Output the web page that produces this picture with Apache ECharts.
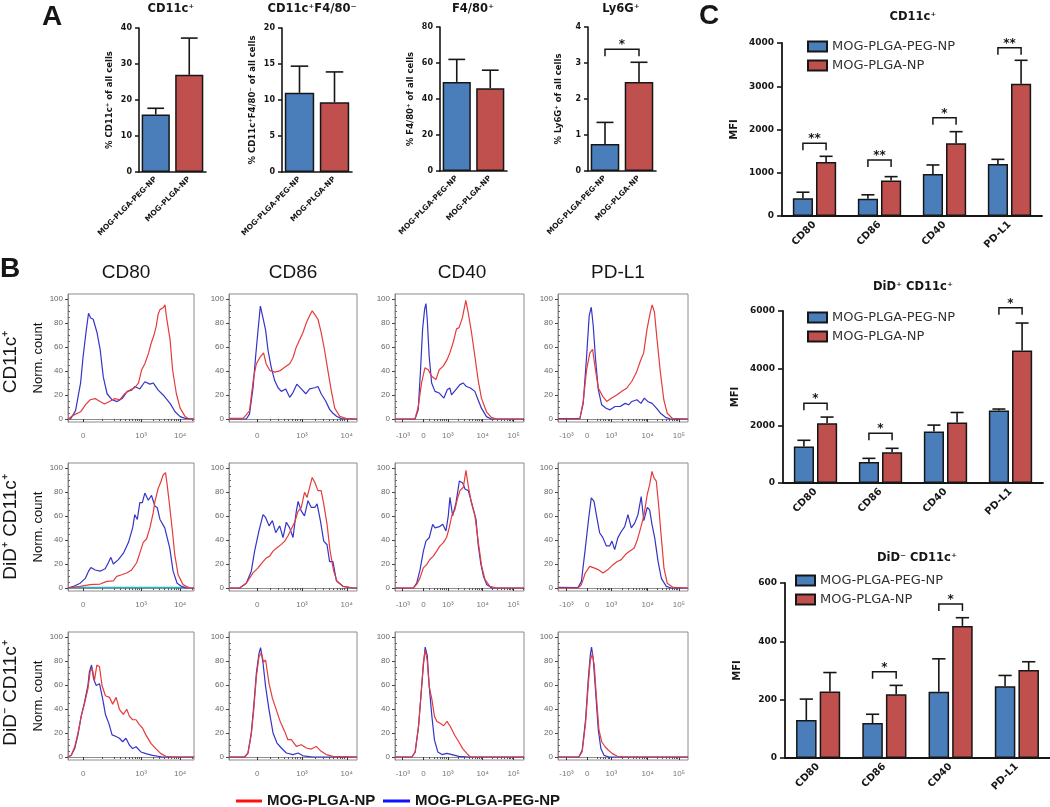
<!DOCTYPE html>
<html>
<head>
<meta charset="UTF-8">
<script src="https://cdn.jsdelivr.net/npm/echarts@6/dist/echarts.min.js"></script>
<style>html,body{margin:0;padding:0;background:#fff}</style>
</head>
<body>
<div id="main" style="width:1050px;height:807px"></div>
<script type="text/javascript">
// ---------- panel A : % of all cells ----------
var groups = ['MOG-PLGA-PEG-NP', 'MOG-PLGA-NP'];
var aTitles = ['CD11c⁺', 'CD11c⁺F4/80⁻', 'F4/80⁺', 'Ly6G⁺'];
var aYNames = ['% CD11c⁺ of all cells', '% CD11c⁺F4/80⁻ of all cells', '% F4/80⁺ of all cells', '% Ly6G⁺ of all cells'];
var aMeans = [[16, 27], [11, 9.7], [49.5, 46], [0.75, 2.47]];
var aErrTop = [[17.7, 37.2], [14.7, 13.9], [62, 56], [1.35, 3.02]];
var aMax = [40, 20, 80, 4];
var aStep = [10, 5, 20, 1];
var aSig = [[], [], [], [[0, 3.38, '*']]];

// ---------- panel C : MFI ----------
var markers = ['CD80', 'CD86', 'CD40', 'PD-L1'];
var cTitles = ['CD11c⁺', 'DiD⁺ CD11c⁺', 'DiD⁻ CD11c⁺'];
var cPeg = [[410, 400, 970, 1200], [1270, 730, 1800, 2530], [130, 120, 227, 246]];
var cPegErr = [[550, 490, 1180, 1310], [1490, 860, 2020, 2580], [202, 150, 340, 283]];
var cPlga = [[1250, 820, 1680, 3060], [2080, 1070, 2110, 4620], [228, 219, 453, 302]];
var cPlgaErr = [[1380, 910, 1950, 3600], [2300, 1210, 2460, 5580], [293, 249, 481, 330]];
var cMax = [4000, 6000, 600];
var cStep = [1000, 2000, 200];
var cSig = [
  [[0, 1681, '**'], [1, 1295, '**'], [2, 2273, '*'], [3, 3891, '**']],
  [[0, 2780, '*'], [1, 1733, '*'], [3, 6115, '*']],
  [[1, 296, '*'], [2, 528, '*']]
];

// ---------- panel B : normalized histograms (x = channel 0-100 across plot) ----------
var bCols = ['CD80', 'CD86', 'CD40', 'PD-L1'];
var bRows = ['CD11c⁺', 'DiD⁺ CD11c⁺', 'DiD⁻ CD11c⁺'];
var bTickPos = [[12, 58, 89], [22, 57, 92], [6, 22, 41, 68, 92], [6.5, 22.5, 41, 69, 93]];
var bTickLabels = [['0', '10³', '10⁴'], ['0', '10³', '10⁴'], ['-10³', '0', '10³', '10⁴', '10⁵'], ['-10³', '0', '10³', '10⁴', '10⁵']];

var pegRow1 = [
  [[0,0],[2,0],[6,7],[10,30],[12,52],[14.5,74],[16.3,88],[18,84],[20,83],[23,72],[25.5,58],[28,35],[31,21],[35,16],[39,14.5],[43,17],[47,23],[50.5,24],[53,27],[57,25],[61,31],[65,29],[67.6,30],[71.6,24],[75.5,20],[81,13],[85,6],[89,2],[93,0.5],[100,0]],
  [[0,0],[13.5,0],[16,4],[18.8,26],[20.8,52],[22.7,74],[24.5,94],[26.6,84],[28.6,74],[30.5,57],[33,43],[35.7,32],[38.3,26],[40.9,23],[44.3,25],[47.4,18],[50,22],[53,29],[56.5,25],[60,21],[63,25],[67,26],[69.5,27],[72,21],[75.5,15],[78.6,8],[81,5],[84,2.3],[87.8,0.3],[100,0]],
  [[0,0],[15.5,0],[18,7.6],[19.8,41],[21.4,75],[23,91.6],[24,96],[25,83],[26.5,52],[28.4,30],[31,23],[34.3,21.6],[37.9,17.4],[40.5,24.4],[42.5,25.8],[43.8,20],[47.2,24.4],[50.3,28.6],[52.8,30],[55.4,27],[58.5,25.8],[61.9,23],[64.4,16],[67,9],[70.9,2],[74.7,0],[100,0]],
  [[0,0.3],[16.8,0.3],[19.4,13],[22,52],[24,86],[25.6,93],[27.1,77.6],[28.9,49.6],[31,24.4],[33.6,11.8],[37,9],[40,7.6],[43.9,10.4],[47.8,10.4],[51.7,13],[54.3,11.8],[56.8,14.6],[60.7,16],[63.8,13],[66.4,17.4],[69,14.6],[72.4,13],[75.7,9],[78.8,4.8],[82.7,1.4],[86.6,0],[100,0]]
];
var plgaRow1 = [
  [[0,0],[4,3],[10,6],[14,12],[17.6,16],[21.5,17],[25.5,14.5],[29,12.5],[33,14.5],[37,17],[41,16],[45,21],[49,24],[53,26],[56,30],[58.5,41],[61,46],[64,55],[66,63],[68,69],[70,77],[71.5,87],[73,91],[75.5,92.5],[77,95],[78,86],[81,66],[83,41],[86,21],[89,9],[93,2],[96,0],[100,0]],
  [[0,0.5],[11,0.5],[16,6.5],[19.3,35],[21.4,46],[24,51],[27,55],[29,46],[31.8,40.5],[35.7,39],[39.6,40],[43.5,43],[47.4,46],[50,51],[52.6,60],[55.2,66],[57.8,72],[60.4,80],[63,86],[65,90],[67,87],[69.5,83],[72,72],[74.7,57],[77.3,40],[80,23],[82.6,9],[86.5,2.3],[91.7,0.3],[100,0]],
  [[0,0],[15.5,0],[18,10],[20.6,30],[23.2,42.6],[25.8,41],[28.4,35.6],[31.7,32.8],[34.3,41],[37.4,44],[40.5,49.6],[42.5,55],[45.1,63.6],[47.7,75],[49.7,76],[52.3,84.6],[54.9,98.6],[56.7,88.8],[59.3,72],[61.9,52.4],[64.4,32.8],[67,17.4],[70.9,6],[74.7,1.4],[78.6,0],[100,0]],
  [[0,0],[16.8,0],[19.4,14.6],[22,41],[24.5,55],[26.6,58],[28.4,44],[31,25.8],[34.4,18.8],[37.5,14.6],[41.3,17.4],[45.2,20],[49.1,23],[53,25.8],[56.8,31.4],[60.2,38.4],[63.3,48],[65.9,55],[68.5,75],[71,88.8],[72.4,95],[74.2,88.8],[76.2,66],[78.8,38.4],[81.4,16],[84,4.8],[87.9,0.6],[100,0]]
];
var pegRow2 = [
  [[0,0],[0.5,0],[4.5,1.4],[9.7,4],[13.7,8],[16.3,14],[18.2,17],[21.6,15],[25.5,14],[29.5,16],[32,21],[34,25.5],[36,20],[40,23.6],[44,29],[48,38],[51.3,50],[53,61],[55,57],[57,71],[59,71],[61,79],[63.7,73],[66.3,77],[69,68],[70.8,67],[73,57],[76.8,50],[80.8,33],[83.4,14],[86.6,4],[90,1.4],[94,0],[100,0]],
  [[0,0],[8.3,0],[13.5,4],[17.4,14],[20,30.7],[23.4,47.5],[26.6,61],[28.6,58.7],[31.3,51.7],[33.9,56],[36.5,46],[39.6,51.7],[42.2,42],[44.8,54.7],[47.4,50],[50,42],[52.6,64],[54,72],[56.5,64],[59,60],[61.7,72.6],[64.3,67],[67,67],[68.8,70],[71.4,56],[74,39],[76.6,36],[78.6,22],[81.2,22],[83.9,6],[89,1.4],[96.9,0],[100,0]],
  [[0,0],[14.2,0],[16.8,4],[19.4,15],[22,30.7],[24,39],[26.6,42],[29.2,53],[31,50],[34.4,51],[37,53],[39.5,47.5],[41.3,60],[42.6,75.4],[44.7,60],[47.3,71],[49.9,89],[52.5,87.4],[54.3,82.4],[56.8,81],[59.4,71],[62.8,57],[64.6,35],[66.4,21],[68.5,10],[71,3],[75,0],[100,0]],
  [[0,0.5],[15.4,0.3],[18,5.5],[21,33],[23.6,58],[25.6,75],[27.7,72],[29.5,61],[32,46],[34.6,41.7],[37.2,35],[39.7,35],[41.5,39],[43.6,32],[46,41.7],[48.7,47],[51.3,51],[53.8,61],[56.4,50],[59,54],[61.5,61],[64,76],[66,56],[68.7,67],[70.5,65],[72.3,53],[74.4,41.7],[77,22],[79.5,8],[83.3,1.4],[87,0],[100,0]]
];
var plgaRow2 = [
  [[0,0],[9.7,1.4],[17.6,2.8],[25.5,3.3],[30.8,5.5],[36,6],[38.7,9.7],[42.6,11],[46.6,12.5],[50.5,15],[54.5,21],[57,29],[59.7,38],[62.4,41],[65,50],[67.6,62.5],[69,72],[71.6,83],[73.4,87.5],[75.5,94],[77.4,96],[78.7,86],[80.8,67],[82.9,47],[84.7,28],[87.4,11],[91.3,2.8],[96.6,0],[100,0]],
  [[0,0],[8.3,0],[13.5,4],[18.75,12.6],[22.7,16.8],[26.6,22],[29.2,25],[31.8,26.5],[34.4,30.7],[37.5,33.5],[40.9,36.3],[43.5,39],[46,43.3],[48.7,49],[51.3,54.7],[54,64],[56.5,67],[59,79.6],[61,75.4],[63,83.8],[65,92],[67,88],[69.5,81],[72,81],[74,70],[76.6,53],[79,30.7],[81.8,14],[84.4,5.6],[89,1.4],[96.9,0],[100,0]],
  [[0,0],[14.2,0],[16.8,3],[19.4,8.4],[22,16.8],[24.5,19.5],[27,23.7],[29.7,26.5],[32.3,30.7],[34.9,35],[37.5,37.7],[40,42],[42,50],[44,60],[46.5,65.4],[48.3,74],[50.4,81],[53,83.8],[55,97.8],[56.8,85],[59.4,70],[62,60],[64.6,37.7],[67.2,18],[69.8,7],[73.6,1.4],[78.8,0],[100,0]],
  [[0,0],[15.4,0],[18,2.8],[21,12.5],[24.4,18],[27.7,16.7],[30.8,15.3],[34.6,12.5],[38.5,15.3],[42.3,19.4],[45.6,22],[48.7,23.6],[51.8,27.8],[55,30.6],[58.5,33],[61,40],[63.6,50],[66,60],[68.7,78],[70.5,86],[72.3,97],[73.8,91.7],[75.6,89],[77.4,69],[79.5,41.7],[81.5,16.7],[84,4],[88.5,0.5],[100,0]]
];
var isoRow2CD80 = [[0,0.4],[94,0.4]];
var pegRow3 = [
  [[0,0],[2.6,1.4],[5.3,7],[7.9,18.4],[10.5,34],[13,45],[15.8,59.5],[17,71],[18.7,76.5],[20.3,65],[22.4,59.5],[25,61],[27.6,48],[29.7,35.4],[32.4,28],[35,18.4],[38.2,17],[40.8,15.6],[43.4,12.7],[46,15.6],[48.7,10],[51.3,7],[54,8.5],[57.9,4.2],[61.8,2.8],[67.1,1.4],[75,0],[100,0]],
  [[0,0],[12.2,0],[14.8,3.3],[17.4,20],[19.3,42],[21.4,70],[23.4,86],[24.7,91],[26.6,78],[28.6,58.6],[31.3,39],[34.4,20],[37.5,11.6],[40.9,7.5],[44.8,3.3],[50,2],[54,3.3],[57.8,1],[65.6,0],[100,0]],
  [[0,0],[13,0],[15.6,4],[18.2,25],[20.3,53.5],[22,76],[23.4,91.5],[25,84.5],[26.5,59],[28.6,33.8],[30.6,14],[33.2,4.2],[36.4,2],[40.3,3],[44.2,2],[49.4,0.5],[57,0],[100,0]],
  [[0,0],[16,0],[18.6,5.6],[21.2,31],[23.3,64.8],[24.8,84.5],[25.8,91.5],[27.1,81.7],[29,53.5],[31,22.5],[33,7],[35.4,1.4],[39.3,0],[100,0]]
];
var plgaRow3 = [
  [[0,0],[2.6,1.4],[5.3,8.5],[7.9,19.8],[10.5,34],[13,44],[15.8,56.7],[17.6,71],[19.2,73.7],[21,63.7],[22.9,76.5],[25,75],[27,59.5],[29.7,51],[32.9,49.6],[35.5,44],[38.2,49.6],[40.8,39.7],[43.9,35.4],[46.6,39.7],[48.7,34],[51.3,31],[54,31],[56.6,27],[59.2,24],[61.8,18.4],[65.8,11.3],[69.7,7],[73.7,2.8],[77.6,0.6],[82.9,0],[100,0]],
  [[0,0],[12.2,0],[14.8,3.3],[17.4,18.5],[19.3,39],[21.4,67],[23.4,83.4],[25.3,86.7],[27,79],[28.6,80.7],[31.3,61],[33.9,49],[37,39],[40,29.6],[43.5,21.3],[46,14.4],[48.7,14.4],[52.6,8.8],[56.5,10.2],[60.4,7.5],[64.3,6.6],[68.2,8.8],[72,4.7],[76,2],[81.2,0.5],[100,0]],
  [[0,0],[13,0],[15.6,4],[18.2,25],[20.3,53.5],[22,79],[23.4,88.7],[25,80],[26.5,59],[28.6,48],[30.6,33.8],[32.5,29.6],[35,28],[37.7,26],[40.3,29.6],[42.9,25.4],[46.2,18.3],[49.4,12.7],[52.5,7],[55.8,2.8],[58.4,0],[100,0]],
  [[0,0],[16,0],[18.6,4.2],[21.2,28],[23.3,60.6],[24.8,80],[26.4,86],[27.9,76],[29.5,50.7],[31.5,22.5],[33.6,12.7],[36.2,8.5],[38.8,5.6],[41.9,2.8],[45.7,0.6],[52.2,0],[100,0]]
];
var pegRows = [pegRow1, pegRow2, pegRow3];
var plgaRows = [plgaRow1, plgaRow2, plgaRow3];

// ---------- build ----------
var chart = echarts.init(document.getElementById('main'));
var grids = [], xAxes = [], yAxes = [], series = [], legends = [], graphics = [];
var BLUE = '#4a7ebb', RED = '#c0504d', INK = '#161616';
var PRISM = 'DejaVu Sans', ARIAL = 'Liberation Sans';

function errorBars(capFrac) {
  return function (params, api) {
    var band = api.size([1, 0])[0];
    var base = api.coord([api.value(0), api.value(1)]);
    var top = api.coord([api.value(0), api.value(2)]);
    var x = base[0] + api.value(3) * band;
    var half = capFrac * band / 2;
    var st = {stroke: INK, lineWidth: 1.6};
    return {type: 'group', children: [
      {type: 'line', shape: {x1: x, y1: base[1], x2: x, y2: top[1]}, style: st},
      {type: 'line', shape: {x1: x - half, y1: top[1], x2: x + half, y2: top[1]}, style: st}
    ]};
  };
}

function brackets(texts, offL, offR) {
  return function (params, api) {
    var band = api.size([1, 0])[0];
    var p = api.coord([api.value(0), api.value(1)]);
    var x1 = p[0] + offL * band, x2 = p[0] + offR * band, y = p[1];
    return {type: 'group', children: [
      {type: 'polyline', shape: {points: [[x1, y + 7], [x1, y], [x2, y], [x2, y + 7]]},
        style: {stroke: INK, lineWidth: 1.5, fill: null}},
      {type: 'text', x: (x1 + x2) / 2, y: y + 2,
        style: {text: texts[params.dataIndex], font: 'bold 12px ' + PRISM, fill: INK,
          align: 'center', verticalAlign: 'bottom', textAlign: 'center', textVerticalAlign: 'bottom'}}
    ]};
  };
}

function label(x, y, s, font, rot, align) {
  return {type: 'text', x: x, y: y, rotation: rot || 0, silent: true,
    style: {text: s, font: font, fill: INK, align: align || 'center', verticalAlign: 'middle',
      textAlign: align || 'center', textVerticalAlign: 'middle'}};
}

var boldTick = {color: INK, fontFamily: PRISM, fontWeight: 'bold'};
function plain(v) { return String(v); }

// panel C (first, so the legends pick up the bar styles)
var cGrid = [
  {left: 782, top: 43, width: 260, height: 173},
  {left: 783, top: 311, width: 260, height: 172},
  {left: 785, top: 583, width: 265, height: 175}
];
var cLegendAt = [[807, 40], [807, 311], [795, 574]];
var cTitleAt = [[913, 17], [913, 287], [917, 558]];
var BW = 0.31, BG = 0.15, OFF = BW * (1 + BG) / 2;

cTitles.forEach(function (title, i) {
  var g = grids.push(cGrid[i]) - 1;
  var xi = xAxes.push({gridIndex: g, type: 'category', data: markers,
    axisLine: {lineStyle: {color: INK, width: 1.8}},
    axisTick: {alignWithLabel: true, length: 5, lineStyle: {color: INK, width: 1.6}},
    axisLabel: Object.assign({rotate: 45, margin: 7, interval: 0, fontSize: 10}, boldTick)}) - 1;
  var yi = yAxes.push({gridIndex: g, type: 'value', min: 0, max: cMax[i], interval: cStep[i],
    name: 'MFI', nameLocation: 'middle', nameGap: 43,
    nameTextStyle: {color: INK, fontFamily: PRISM, fontWeight: 'bold', fontSize: 10},
    axisLine: {show: true, lineStyle: {color: INK, width: 1.8}},
    axisTick: {show: true, length: 5, lineStyle: {color: INK, width: 1.6}},
    axisLabel: Object.assign({fontSize: 9, margin: 8, formatter: plain}, boldTick),
    splitLine: {show: false}}) - 1;
  series.push({type: 'bar', name: groups[0], xAxisIndex: xi, yAxisIndex: yi, data: cPeg[i],
    barWidth: (BW * 100) + '%', barGap: (BG * 100) + '%',
    itemStyle: {color: BLUE, borderColor: INK, borderWidth: 1.5}});
  series.push({type: 'bar', name: groups[1], xAxisIndex: xi, yAxisIndex: yi, data: cPlga[i],
    barWidth: (BW * 100) + '%', barGap: (BG * 100) + '%',
    itemStyle: {color: RED, borderColor: INK, borderWidth: 1.5}});
  var err = [];
  markers.forEach(function (m, k) {
    err.push([k, cPeg[i][k], cPegErr[i][k], -OFF]);
    err.push([k, cPlga[i][k], cPlgaErr[i][k], OFF]);
  });
  series.push({type: 'custom', name: 'sem', xAxisIndex: xi, yAxisIndex: yi, data: err,
    encode: {x: 0, y: 1}, renderItem: errorBars(0.2), z: 3, clip: false, silent: true});
  series.push({type: 'custom', name: 'p', xAxisIndex: xi, yAxisIndex: yi,
    data: cSig[i].map(function (s) { return [s[0], s[1]]; }),
    encode: {x: 0, y: 1}, renderItem: brackets(cSig[i].map(function (s) { return s[2]; }), -OFF, OFF),
    z: 4, clip: false, silent: true});
  legends.push({data: groups, orient: 'vertical', left: cLegendAt[i][0], top: cLegendAt[i][1],
    icon: 'rect', itemWidth: 19, itemHeight: 10, itemGap: 6, padding: 0, selectedMode: false,
    textStyle: {fontFamily: PRISM, fontSize: 13, color: '#333'}});
  graphics.push(label(cTitleAt[i][0], cTitleAt[i][1], title, 'bold 11.5px ' + PRISM));
});

// panel A
var aGrid = [
  {left: 139, top: 28, width: 67, height: 144},
  {left: 282, top: 28, width: 70, height: 144},
  {left: 440, top: 27, width: 67, height: 144},
  {left: 588, top: 27, width: 68, height: 144}
];
var aTitleX = [171, 312, 473, 621];

aTitles.forEach(function (title, i) {
  var g = grids.push(aGrid[i]) - 1;
  var xi = xAxes.push({gridIndex: g, type: 'category', data: groups,
    axisLine: {lineStyle: {color: INK, width: 1.6}},
    axisTick: {alignWithLabel: true, length: 4, lineStyle: {color: INK, width: 1.5}},
    axisLabel: Object.assign({rotate: 45, margin: 6, interval: 0, fontSize: 7.5}, boldTick)}) - 1;
  var yi = yAxes.push({gridIndex: g, type: 'value', min: 0, max: aMax[i], interval: aStep[i],
    name: aYNames[i], nameLocation: 'middle', nameGap: 25,
    nameTextStyle: {color: INK, fontFamily: PRISM, fontWeight: 'bold', fontSize: 8.5},
    axisLine: {show: true, lineStyle: {color: INK, width: 1.6}},
    axisTick: {show: true, length: 4, lineStyle: {color: INK, width: 1.5}},
    axisLabel: Object.assign({fontSize: 8, margin: 7, formatter: plain}, boldTick),
    splitLine: {show: false}}) - 1;
  series.push({type: 'bar', name: 'A' + i, xAxisIndex: xi, yAxisIndex: yi, barWidth: '84%',
    data: aMeans[i].map(function (v, k) {
      return {value: v, itemStyle: {color: k === 0 ? BLUE : RED}};
    }),
    itemStyle: {borderColor: INK, borderWidth: 1.5}});
  series.push({type: 'custom', name: 'sem', xAxisIndex: xi, yAxisIndex: yi,
    data: aMeans[i].map(function (v, k) { return [k, v, aErrTop[i][k], 0]; }),
    encode: {x: 0, y: 1}, renderItem: errorBars(0.5), z: 3, clip: false, silent: true});
  if (aSig[i].length) {
    series.push({type: 'custom', name: 'p', xAxisIndex: xi, yAxisIndex: yi,
      data: aSig[i].map(function (s) { return [s[0], s[1]]; }),
      encode: {x: 0, y: 1}, renderItem: brackets(aSig[i].map(function (s) { return s[2]; }), 0, 1),
      z: 4, clip: false, silent: true});
  }
  graphics.push(label(aTitleX[i], 9, title, 'bold 11.5px ' + PRISM));
});

// panel B
var bLeft = [68, 229, 395, 558], bW = [126, 128, 129, 130], bTop = [294, 463, 632], bH = 128;
var bColTitleX = [126, 293, 462, 618];
var yMajor = [0, 20, 40, 60, 80, 100];
var yMinor = [];
for (var t = 5; t < 100; t += 5) { if (t % 20) yMinor.push(t); }

function logMinors(pos, lab) {
  var dec = [];
  lab.forEach(function (s, k) { if (s.indexOf('10') === 0) dec.push(pos[k]); });
  var zero = pos[lab.indexOf('0')];
  var out = [];
  var w0 = dec[1] - dec[0];
  var anchors = [dec[0] - w0].concat(dec);
  anchors.forEach(function (p, k) {
    var w = k < anchors.length - 1 ? anchors[k + 1] - p : dec[dec.length - 1] - dec[dec.length - 2];
    for (var m = 2; m <= 9; m++) {
      var v = p + Math.log10(m) * w;
      if (v > zero + 4 && v < 100) out.push(+v.toFixed(2));
    }
    if (k === 0 && p > zero + 4) out.push(p);
  });
  return out;
}

bRows.forEach(function (rowName, r) {
  bCols.forEach(function (colName, c) {
    var g = grids.push({left: bLeft[c], top: bTop[r], width: bW[c], height: bH,
      show: true, borderColor: '#8c8c8c', borderWidth: 1}) - 1;
    var tp = bTickPos[c], tl = bTickLabels[c];
    var xi = xAxes.push({gridIndex: g, type: 'value', min: 0, max: 100, position: 'bottom',
      axisLine: {show: true, lineStyle: {color: '#8c8c8c', width: 1}},
      axisTick: {show: true, customValues: tp, length: 3, lineStyle: {color: '#333'}},
      axisLabel: {customValues: tp, formatter: function (v) { return tl[tp.indexOf(v)]; },
        fontSize: 8, color: '#777', margin: 10, fontFamily: ARIAL},
      splitLine: {show: false}}) - 1;
    xAxes.push({gridIndex: g, type: 'value', min: 0, max: 100, position: 'bottom',
      axisLine: {show: false}, axisLabel: {show: false}, splitLine: {show: false},
      axisTick: {show: true, customValues: logMinors(tp, tl), length: 2, lineStyle: {color: '#555'}}});
    var yi = yAxes.push({gridIndex: g, type: 'value', min: -2.5, max: 104,
      name: c === 0 ? 'Norm. count' : '', nameLocation: 'middle', nameGap: 23,
      nameTextStyle: {color: INK, fontFamily: ARIAL, fontSize: 13},
      axisLine: {show: true, lineStyle: {color: '#8c8c8c', width: 1}},
      axisTick: {show: true, customValues: yMajor, length: 3, lineStyle: {color: '#444'}},
      axisLabel: {customValues: yMajor, fontSize: 8, color: '#666', margin: 5, fontFamily: ARIAL},
      splitLine: {show: false}}) - 1;
    yAxes.push({gridIndex: g, type: 'value', min: -2.5, max: 104,
      axisLine: {show: false}, axisLabel: {show: false}, splitLine: {show: false},
      axisTick: {show: true, customValues: yMinor, length: 2, lineStyle: {color: '#666'}}});
    if (r === 1 && c === 0) {
      series.push({type: 'line', name: 'isotype', xAxisIndex: xi, yAxisIndex: yi, data: isoRow2CD80,
        showSymbol: false, silent: true, lineStyle: {color: '#27b3c4', width: 1.4}});
    }
    series.push({type: 'line', name: 'peg-hist', xAxisIndex: xi, yAxisIndex: yi, data: pegRows[r][c],
      showSymbol: false, silent: true, lineStyle: {color: '#3434c8', width: 1.2}});
    series.push({type: 'line', name: 'plga-hist', xAxisIndex: xi, yAxisIndex: yi, data: plgaRows[r][c],
      showSymbol: false, silent: true, lineStyle: {color: '#e53b3b', width: 1.2}});
    if (r === 0) graphics.push(label(bColTitleX[c], 273, colName, '19px ' + ARIAL));
  });
});
var bRowY = [362, 527, 693];
bRows.forEach(function (s, r) {
  graphics.push(label(11, bRowY[r], s, '19px ' + ARIAL, Math.PI / 2));
});

// panel letters and B legend
graphics.push(label(42, 17, 'A', 'bold 28px ' + ARIAL, 0, 'left'));
graphics.push(label(0, 269, 'B', 'bold 28px ' + ARIAL, 0, 'left'));
graphics.push(label(699, 16, 'C', 'bold 28px ' + ARIAL, 0, 'left'));
graphics.push({type: 'line', shape: {x1: 236, y1: 801, x2: 262, y2: 801}, style: {stroke: '#ff1010', lineWidth: 3}});
graphics.push(label(267, 801, 'MOG-PLGA-NP', 'bold 15px ' + ARIAL, 0, 'left'));
graphics.push({type: 'line', shape: {x1: 383, y1: 801, x2: 410, y2: 801}, style: {stroke: '#1010ff', lineWidth: 3}});
graphics.push(label(415, 801, 'MOG-PLGA-PEG-NP', 'bold 15px ' + ARIAL, 0, 'left'));

var option = {
  animation: false,
  backgroundColor: '#ffffff',
  grid: grids,
  xAxis: xAxes,
  yAxis: yAxes,
  legend: legends,
  series: series,
  graphic: {elements: graphics}
};
option && chart.setOption(option);
</script>
</body>
</html>
